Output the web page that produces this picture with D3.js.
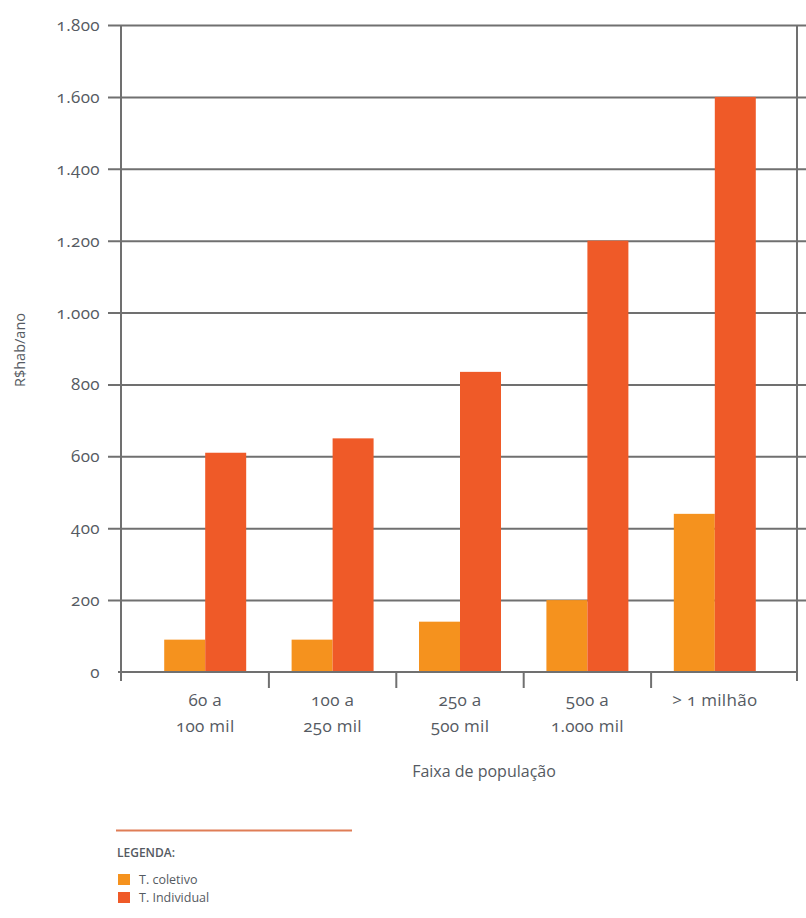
<!DOCTYPE html>
<html>
<head>
<meta charset="utf-8">
<script src="https://cdn.jsdelivr.net/npm/d3@7"></script>
<style>
  html, body { margin: 0; padding: 0; background: #ffffff; }
  svg { display: block; }
  .num { font-family: "Open Sans", sans-serif; font-variant-numeric: oldstyle-nums; font-feature-settings: "onum" 1; }
  .sans { font-family: "Open Sans", sans-serif; }
</style>
</head>
<body>
<svg id="chart" width="806" height="918"></svg>
<script>
// Gasto anual por habitante, por faixa de população do município
const categories = ["60 a|100 mil", "100 a|250 mil", "250 a|500 mil", "500 a|1.000 mil", "> 1 milhão"];
const seriesNames = ["T. coletivo", "T. Individual"];
const coletivo = [90, 90, 140, 200, 440];
const individual = [610, 650, 835, 1200, 1600];
const yTicks = [0, 200, 400, 600, 800, 1000, 1200, 1400, 1600, 1800];
const seriesColors = ["#f5921e", "#ef5a28"];

const svg = d3.select("#chart");
const gridColor = "#707070";
const textColor = "#555a62";

const ptBR = d3.formatLocale({ decimal: ",", thousands: ".", grouping: [3], currency: ["R$", ""] });
const fmt = ptBR.format(",d");

const plot = { left: 121, right: 797, top: 25, bottom: 672 };

const y = d3.scaleLinear().domain([0, 1800]).range([plot.bottom, plot.top]);
const x0 = d3.scaleBand().domain(categories).range([141.5, 778.5]).paddingInner(0).paddingOuter(0);
const x1 = d3.scaleBand().domain(seriesNames).range([0, x0.bandwidth()]).paddingInner(0).paddingOuter(0.554);
const color = d3.scaleOrdinal().domain(seriesNames).range(seriesColors);

// horizontal grid with left ticks (zero line drawn separately)
const yAxis = d3.axisLeft(y).tickValues(yTicks.filter(d => d > 0)).tickFormat(fmt)
  .tickSize(-(806 - plot.left)).tickPadding(0);
const gy = svg.append("g").attr("transform", `translate(${plot.left},0)`).call(yAxis);
gy.select(".domain").remove();
gy.selectAll(".tick line").attr("x1", -13).attr("stroke", gridColor).attr("stroke-width", 2);
gy.selectAll(".tick text").remove();

// y tick labels
svg.append("g").selectAll("text").data(yTicks).join("text")
  .attr("class", "num")
  .attr("x", 100).attr("y", d => y(d)).attr("dy", "0.35em")
  .attr("text-anchor", "end").attr("font-size", 17).attr("letter-spacing", 0.4)
  .attr("fill", textColor)
  .text(d => fmt(d));

// bars
const rows = categories.map((c, i) => ({ cat: c, vals: [coletivo[i], individual[i]] }));
svg.append("g").selectAll("g").data(rows).join("g")
  .attr("transform", d => `translate(${x0(d.cat)},0)`)
  .selectAll("rect").data(d => d.vals.map((v, j) => ({ s: seriesNames[j], v })))
  .join("rect")
  .attr("x", d => x1(d.s)).attr("width", x1.bandwidth())
  .attr("y", d => y(d.v)).attr("height", d => y(0) - y(d.v))
  .attr("fill", d => color(d.s));

// frame: vertical axes and the zero line
svg.append("line").attr("x1", plot.left).attr("x2", plot.left).attr("y1", plot.top).attr("y2", plot.bottom + 9)
  .attr("stroke", gridColor).attr("stroke-width", 2);
svg.append("line").attr("x1", plot.right).attr("x2", plot.right).attr("y1", plot.top).attr("y2", plot.bottom + 9)
  .attr("stroke", gridColor).attr("stroke-width", 2);
svg.append("line").attr("x1", plot.left - 3).attr("x2", plot.right).attr("y1", y(0)).attr("y2", y(0))
  .attr("stroke", gridColor).attr("stroke-width", 2);

// category separators below the zero line
const seps = categories.slice(1).map(c => x0(c));
svg.append("g").selectAll("line").data(seps).join("line")
  .attr("x1", d => d).attr("x2", d => d).attr("y1", y(0)).attr("y2", y(0) + 16)
  .attr("stroke", gridColor).attr("stroke-width", 2);

// category labels
const xl = svg.append("g").selectAll("text").data(categories).join("text")
  .attr("class", "num").attr("text-anchor", "middle").attr("font-size", 17).attr("letter-spacing", 0.3)
  .attr("fill", textColor)
  .attr("x", d => x0(d) + x0.bandwidth() / 2).attr("y", 706);
xl.selectAll("tspan").data(d => d.split("|")).join("tspan")
  .attr("x", function () { return d3.select(this.parentNode).attr("x"); })
  .attr("dy", (d, i) => i === 0 ? 0 : 26)
  .text(d => d);

// axis titles
svg.append("text").attr("class", "sans").attr("x", 484).attr("y", 777)
  .attr("text-anchor", "middle").attr("font-size", 16).attr("fill", textColor)
  .text("Faixa de população");
svg.append("text").attr("class", "sans")
  .attr("transform", "translate(25,350) rotate(-90)")
  .attr("text-anchor", "middle").attr("font-size", 14.5).attr("fill", textColor)
  .text("R$hab/ano");

// legend
const lg = svg.append("g");
lg.append("line").attr("x1", 116).attr("x2", 352).attr("y1", 830.5).attr("y2", 830.5)
  .attr("stroke", "#df7d56").attr("stroke-width", 2);
lg.append("text").attr("class", "sans").attr("x", 117).attr("y", 857)
  .attr("font-size", 12).attr("font-weight", 600).attr("fill", textColor).text("LEGENDA:");
const items = lg.selectAll("g.item").data(seriesNames).join("g").attr("class", "item")
  .attr("transform", (d, i) => `translate(118,${874 + i * 18})`);
items.append("rect").attr("width", 12).attr("height", 11).attr("fill", d => color(d));
items.append("text").attr("class", "sans").attr("x", 21).attr("y", 10)
  .attr("font-size", 12.5).attr("fill", textColor).text(d => d);
</script>
</body>
</html>
